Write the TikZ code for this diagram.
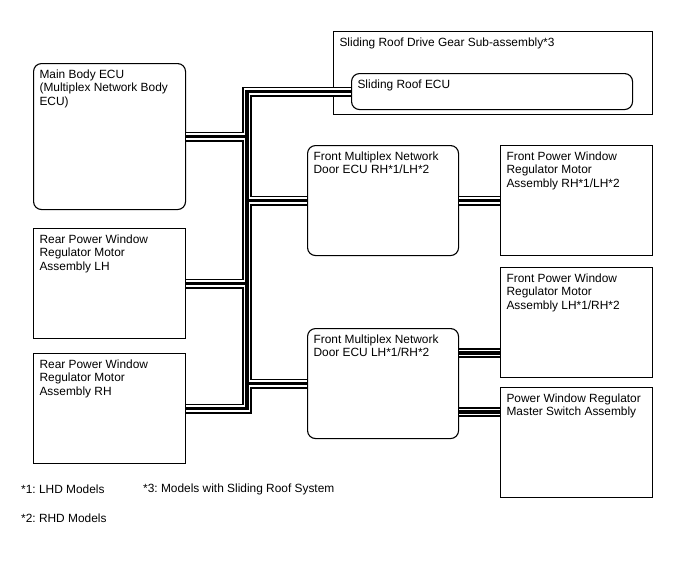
\documentclass[tikz,border=0pt]{standalone}
\usepackage{fontspec}
\setmainfont{Liberation Sans}
\usepackage{tikz}
\usetikzlibrary{positioning}

\frenchspacing
\newcommand{\boxtext}[3]{\parbox[t][#2][t]{#1}{\raggedright #3}}

\begin{document}
\begin{tikzpicture}[
  x=1pt, y=-1pt,
  unit/.style={draw, line width=1.1pt, anchor=north west, inner sep=6pt,
               font=\fontsize{11.9}{13.7}\selectfont},
  ecu/.style={unit, rounded corners=8pt},
  cable/.style={draw=white, line width=6.2pt,
                preaction={draw=black, line width=10pt},
                postaction={draw=black, line width=3.6pt}},
  note/.style={anchor=west, inner sep=0pt, font=\fontsize{11.9}{13.7}\selectfont},
]
\useasboundingbox (0,0) rectangle (688,560);

% ─── LEFT SIDE ────────────────────────────────────────────────────────────────
\node[ecu]  (main_ecu) at (33,63)  {\boxtext{140pt}{134pt}{Main Body ECU\\(Multiplex Network Body\\ECU)}};
\node[unit] (rear_lh)  at (33,228) {\boxtext{140pt}{98pt}{Rear Power Window\\Regulator Motor\\Assembly LH}};
\node[unit] (rear_rh)  at (33,353) {\boxtext{140pt}{98pt}{Rear Power Window\\Regulator Motor\\Assembly RH}};

% ─── SLIDING ROOF ─────────────────────────────────────────────────────────────
\node[unit] (roof_gear) at (333,31) {\boxtext{307pt}{71pt}{Sliding Roof Drive Gear Sub-assembly*3}};
\node[ecu]  (roof_ecu)  at (351,73) {\boxtext{269pt}{24pt}{Sliding Roof ECU}};

% ─── DOOR ECUS ────────────────────────────────────────────────────────────────
\node[ecu] (door_rh) at (307,145) {\boxtext{139pt}{98pt}{Front Multiplex Network\\Door ECU RH*1/LH*2}};
\node[ecu] (door_lh) at (307,328) {\boxtext{139pt}{98pt}{Front Multiplex Network\\Door ECU LH*1/RH*2}};

% ─── RIGHT SIDE ───────────────────────────────────────────────────────────────
\node[unit] (front_rh) at (500,145) {\boxtext{140pt}{98pt}{Front Power Window\\Regulator Motor\\Assembly RH*1/LH*2}};
\node[unit] (front_lh) at (500,267) {\boxtext{140pt}{98pt}{Front Power Window\\Regulator Motor\\Assembly LH*1/RH*2}};
\node[unit] (master)   at (500,387) {\boxtext{140pt}{98pt}{Power Window Regulator\\Master Switch Assembly}};

% ─── BUS ──────────────────────────────────────────────────────────────────────
\coordinate (trunk) at (247,90);
\coordinate (lh_tap) at ([yshift=25pt]front_lh.south west);
\coordinate (ms_tap) at ([yshift=-25pt]master.north west);

\draw[cable] (main_ecu.east) -| (trunk |- roof_ecu.west) -- (roof_ecu.west)
             (trunk |- roof_ecu.west) |- (rear_rh.east)
             (rear_lh.east) -- (trunk |- rear_lh.east)
             (trunk |- door_rh.west) -- (door_rh.west)
             (trunk |- door_lh.west) -- (door_lh.west)
             (door_rh.east) -- (front_rh.west)
             (door_lh.east |- lh_tap) -- (lh_tap)
             (door_lh.east |- ms_tap) -- (ms_tap);

% ─── NOTES ────────────────────────────────────────────────────────────────────
\node[note] (note1) at (21,489)  {*1: LHD Models};
\node[note] (note3) at (143,489) {*3: Models with Sliding Roof System};
\node[note] (note2) at (21,518)  {*2: RHD Models};

\end{tikzpicture}
\end{document}
